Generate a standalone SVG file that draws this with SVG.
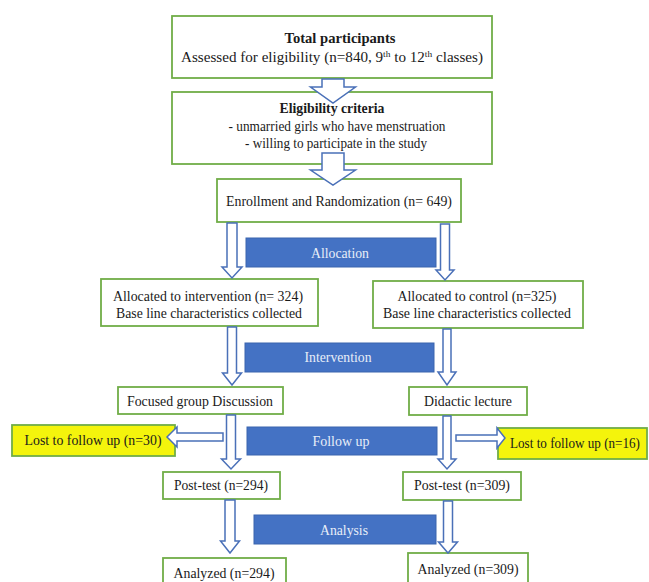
<svg xmlns="http://www.w3.org/2000/svg" width="649" height="582" viewBox="0 0 649 582">
<style>
.box{fill:#ffffff;stroke:#70AD47;stroke-width:1.8}
.lost{fill:#F4F40C;stroke:#70AD47;stroke-width:1.8}
.bar{fill:#4472C4;stroke:#3A64AE;stroke-width:1}
text{font-family:'Liberation Serif','DejaVu Serif',serif;font-size:14.5px;fill:#1a1a1a;text-anchor:middle}
.b{font-weight:bold}
.w{fill:#E8EEF8}
.arr{fill:#ffffff;stroke:#4A70B8;stroke-width:1.5;stroke-linejoin:miter}
</style>
<rect width="649" height="582" fill="#ffffff"/>
<g id="total">
<rect class="box" x="172" y="16" width="320" height="62"/>
<text class="b" x="340" y="43" textLength="111" lengthAdjust="spacingAndGlyphs">Total participants</text>
<text x="332" y="62" textLength="302" lengthAdjust="spacingAndGlyphs">Assessed for eligibility (n=840, 9<tspan dy="-5" font-size="9">th</tspan><tspan dy="5"> to 12</tspan><tspan dy="-5" font-size="9">th</tspan><tspan dy="5"> classes)</tspan></text>
</g>
<g id="eligibility">
<rect class="box" x="172" y="92" width="320" height="72"/>
<text class="b" x="332" y="113" textLength="105" lengthAdjust="spacingAndGlyphs">Eligibility criteria</text>
<text x="337" y="131" textLength="217" lengthAdjust="spacingAndGlyphs">- unmarried girls who have menstruation</text>
<text x="336" y="148" textLength="182" lengthAdjust="spacingAndGlyphs">- willing to participate in the study</text>
</g>
<g id="enrollment">
<rect class="box" x="217" y="179" width="244" height="43"/>
<text x="339" y="206" textLength="226" lengthAdjust="spacingAndGlyphs">Enrollment and Randomization (n= 649)</text>
</g>
<g id="allocation">
<rect class="bar" x="246" y="238" width="190" height="29"/>
<text class="w" x="340" y="258" textLength="58" lengthAdjust="spacingAndGlyphs">Allocation</text>
</g>
<g id="alloc-intervention">
<rect class="box" x="101" y="279" width="217" height="47"/>
<text x="208" y="301" textLength="190" lengthAdjust="spacingAndGlyphs">Allocated to intervention (n= 324)</text>
<text x="209" y="318" textLength="186" lengthAdjust="spacingAndGlyphs">Base line characteristics collected</text>
</g>
<g id="alloc-control">
<rect class="box" x="373" y="281" width="210" height="47"/>
<text x="477" y="301" textLength="159" lengthAdjust="spacingAndGlyphs">Allocated to control (n=325)</text>
<text x="477" y="318" textLength="188" lengthAdjust="spacingAndGlyphs">Base line characteristics collected</text>
</g>
<g id="intervention">
<rect class="bar" x="245" y="343" width="189" height="29"/>
<text class="w" x="338" y="362" textLength="67" lengthAdjust="spacingAndGlyphs">Intervention</text>
</g>
<g id="focused">
<rect class="box" x="118" y="387" width="165" height="27"/>
<text x="200" y="406" textLength="146" lengthAdjust="spacingAndGlyphs">Focused group Discussion</text>
</g>
<g id="didactic">
<rect class="box" x="409" y="387" width="118" height="28"/>
<text x="468" y="406" textLength="88" lengthAdjust="spacingAndGlyphs">Didactic lecture</text>
</g>
<g id="lost-left">
<rect class="lost" x="12" y="425" width="163" height="31"/>
<text x="93" y="445" textLength="137" lengthAdjust="spacingAndGlyphs">Lost to follow up (n=30)</text>
</g>
<g id="followup">
<rect class="bar" x="247" y="427" width="190" height="28"/>
<text class="w" x="341" y="446" textLength="57" lengthAdjust="spacingAndGlyphs">Follow up</text>
</g>
<g id="lost-right">
<rect class="lost" x="498" y="428" width="149" height="31"/>
<text x="575" y="448" font-size="14" textLength="130" lengthAdjust="spacingAndGlyphs">Lost to follow up (n=16)</text>
</g>
<g id="posttest-left">
<rect class="box" x="163" y="472" width="117" height="27"/>
<text x="221" y="490" textLength="94" lengthAdjust="spacingAndGlyphs">Post-test (n=294)</text>
</g>
<g id="posttest-right">
<rect class="box" x="403" y="472" width="118" height="28"/>
<text x="462" y="490" textLength="96" lengthAdjust="spacingAndGlyphs">Post-test (n=309)</text>
</g>
<g id="analysis">
<rect class="bar" x="254" y="515" width="182" height="29"/>
<text class="w" x="344" y="535" textLength="48" lengthAdjust="spacingAndGlyphs">Analysis</text>
</g>
<g id="analyzed-left">
<rect class="box" x="163" y="558" width="123" height="32"/>
<text x="224" y="578" textLength="101" lengthAdjust="spacingAndGlyphs">Analyzed (n=294)</text>
</g>
<g id="analyzed-right">
<rect class="box" x="408" y="553" width="120" height="37"/>
<text x="468" y="574" textLength="101" lengthAdjust="spacingAndGlyphs">Analyzed (n=309)</text>
</g>
<g id="connectors">
<polygon class="arr" points="322,79 344,79 344,87 355.5,87 333,103 310.5,87 322,87"/>
<polygon class="arr" points="322,153 344,153 344,170 355.5,170 333,185 310.5,170 322,170"/>
<polygon class="arr" points="227,223 237,223 237,267 242,267 232,278 222,267 227,267"/>
<polygon class="arr" points="440.5,224 449.5,224 449.5,270 454,270 445,280 436,270 440.5,270"/>
<polygon class="arr" points="227.5,327 236.5,327 236.5,373 241.5,373 232,385 222.5,373 227.5,373"/>
<polygon class="arr" points="443,329 451,329 451,372 456,372 447,385 438,372 443,372"/>
<polygon class="arr" points="226.5,415 235.5,415 235.5,459 240.5,459 231,469 221.5,459 226.5,459"/>
<polygon class="arr" points="443,416 451,416 451,459 456,459 447,469 438,459 443,459"/>
<polygon class="arr" points="225,500 235,500 235,541 239.5,541 230,553 220.5,541 225,541"/>
<polygon class="arr" points="443.5,501 452.5,501 452.5,542 457.5,542 448,553 438.5,542 443.5,542"/>
<polygon class="arr" points="223,433 223,441 177,441 177,447 167,437 177,427 177,433"/>
<polygon class="arr" points="456,435 456,441 497,441 497,448 505,438 497,428 497,435"/>
</g>
</svg>
